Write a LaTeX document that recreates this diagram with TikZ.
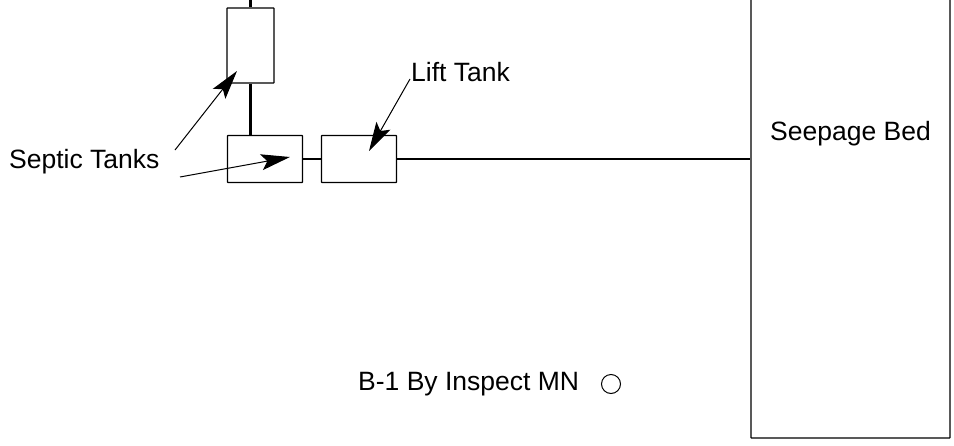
\documentclass[tikz,border=0pt]{standalone}
\usepackage{fontspec}
\setmainfont{Liberation Sans}
\usetikzlibrary{arrows.meta}
\begin{document}
\begin{tikzpicture}[x=1pt,y=-1pt]
  \tikzstyle{tank}=[draw,line width=1.3pt,rounded corners=0.5pt,inner sep=0pt]
  \tikzstyle{pipe}=[line width=2.8pt]
  \tikzstyle{lead}=[line width=1pt,-{Stealth[length=29pt,width=16pt,inset=6pt]}]
  \tikzstyle{label}=[inner sep=0pt,anchor=base west,font=\fontsize{26.5pt}{30pt}\selectfont]
  \useasboundingbox (0,0) rectangle (954,445);
  \clip (0,0) rectangle (954,445);
  \node[tank,minimum width=47pt,minimum height=75pt] (upper) at (250.5,45.5) {};
  \node[tank,minimum width=75pt,minimum height=47pt] (lower) at (265,159) {};
  \node[tank,minimum width=75pt,minimum height=47pt] (lift) at (359,159) {};
  \node[tank,minimum width=199pt,minimum height=460pt] (bed) at (850.5,208) {};
  \node[label] (bedlabel) at (770,140) {Seepage Bed};
  \node[label] (septic) at (9,168.5) {Septic Tanks};
  \node[label] (lifttext) at (411,81.5) {Lift Tank};
  \node[label] (boring) at (358,390) {B-1 By Inspect MN};
  \node[draw,circle,line width=1pt,minimum size=19pt,inner sep=0pt] (hole) at (611,384) {};
  \coordinate (inlet) at (250.5,0);
  \coordinate (a) at (175,150);
  \coordinate (b) at (237,71);
  \coordinate (c) at (180,177);
  \coordinate (d) at (290,157);
  \coordinate (e) at (410,79);
  \coordinate (f) at (369,151);
  \draw[pipe] (inlet) -- (upper);
  \draw[pipe] (upper) -- (upper|-lower.north);
  \draw[pipe] (lower) ++(37.5,0) -- (lift.west);
  \draw[pipe] (lift) ++(37.5,0) -- (bed.west|-lift);
  \draw[lead] (a) -- (b);
  \draw[lead] (c) -- (d);
  \draw[lead] (e) -- (f);
\end{tikzpicture}
\end{document}
